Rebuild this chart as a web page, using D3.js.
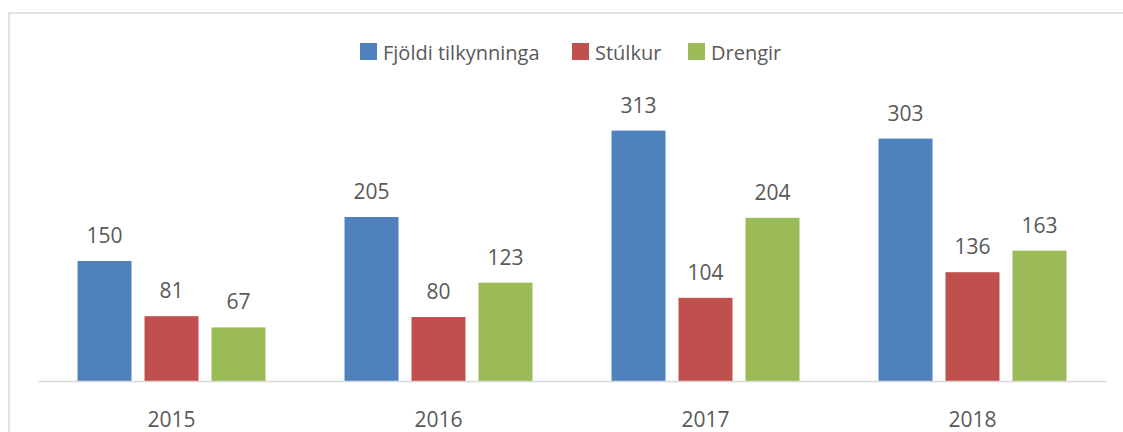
<!DOCTYPE html>
<html lang="is">
  <head>
    <meta charset="utf-8">
    <script src="https://d3js.org/d3.v7.min.js"></script>
    <style>
      body {margin: 0; background: #fff;}
      text {font-family: "Open Sans", sans-serif; fill: #595959;}
    </style>
  </head>
  <body>
    <script type="text/javascript">
      // data
      const years = ["2015", "2016", "2017", "2018"];
      const seriesNames = ["Fjöldi tilkynninga", "Stúlkur", "Drengir"];
      const fjoldi = [150, 205, 313, 303];
      const stulkur = [81, 80, 104, 136];
      const drengir = [67, 123, 204, 163];
      const colors = ["#4F81BD", "#C0504D", "#9BBB59"];

      const w = 1123;
      const h = 432;

      const svg = d3.select("body")
            .append("svg")
            .attr("width", w)
            .attr("height", h);

      // outer frame (runs off the right and bottom edge)
      svg.append("rect")
          .attr("x", 9)
          .attr("y", 13)
          .attr("width", 1130)
          .attr("height", 440)
          .attr("fill", "none")
          .attr("stroke", "#d9d9d9")
          .attr("stroke-width", 1.5);

      const allValues = [fjoldi, stulkur, drengir];

      // scales
      const x0 = d3.scaleBand()
            .domain(years)
            .range([38, 1106]);
      const x1 = d3.scaleBand()
            .domain(seriesNames)
            .range([0, x0.bandwidth()])
            .paddingInner(0.194)
            .paddingOuter(0.59);
      const y = d3.scaleLinear()
            .domain([0, 350])
            .range([381, 101]);

      // bars grouped by year
      const groups = svg.selectAll("g.year")
            .data(years)
            .enter()
            .append("g")
            .attr("class", "year")
            .attr("transform", function(d) { return "translate(" + x0(d) + ",0)"; });

      groups.selectAll("rect")
          .data(function(d, i) {
            return seriesNames.map(function(s, j) { return {s: s, j: j, v: allValues[j][i]}; });
          })
          .enter()
          .append("rect")
          .attr("x", function(d) { return x1(d.s); })
          .attr("y", function(d) { return y(d.v); })
          .attr("width", x1.bandwidth())
          .attr("height", function(d) { return y(0) - y(d.v); })
          .attr("fill", function(d) { return colors[d.j]; });

      // value labels
      groups.selectAll("text.val")
          .data(function(d, i) {
            return seriesNames.map(function(s, j) { return {s: s, v: allValues[j][i]}; });
          })
          .enter()
          .append("text")
          .attr("class", "val")
          .attr("x", function(d) { return x1(d.s) + x1.bandwidth() / 2; })
          .attr("y", function(d) { return y(d.v) - 18; })
          .attr("text-anchor", "middle")
          .style("font-size", "21px")
          .text(function(d) { return d.v; });

      // x axis
      const xAxis = d3.axisBottom(x0).tickSize(0).tickPadding(0);
      const axisG = svg.append("g")
            .attr("transform", "translate(0," + y(0) + ")")
            .call(xAxis);
      axisG.select(".domain").attr("stroke", "#d9d9d9").attr("stroke-width", 1.5);
      axisG.selectAll("text")
          .attr("y", 46)
          .attr("dy", 0)
          .style("font-size", "21px")
          .style("font-family", "'Open Sans', sans-serif")
          .attr("fill", "#595959");

      // legend
      const legendX = [360, 572, 688];
      const legend = svg.selectAll("g.legend")
            .data(seriesNames)
            .enter()
            .append("g")
            .attr("class", "legend")
            .attr("transform", function(d, i) { return "translate(" + legendX[i] + ",43)"; });
      legend.append("rect")
          .attr("width", 17)
          .attr("height", 17)
          .attr("fill", function(d, i) { return colors[i]; });
      legend.append("text")
          .attr("x", 23)
          .attr("y", 17)
          .style("font-size", "20px")
          .text(function(d) { return d; });
    </script>
  </body>
</html>
